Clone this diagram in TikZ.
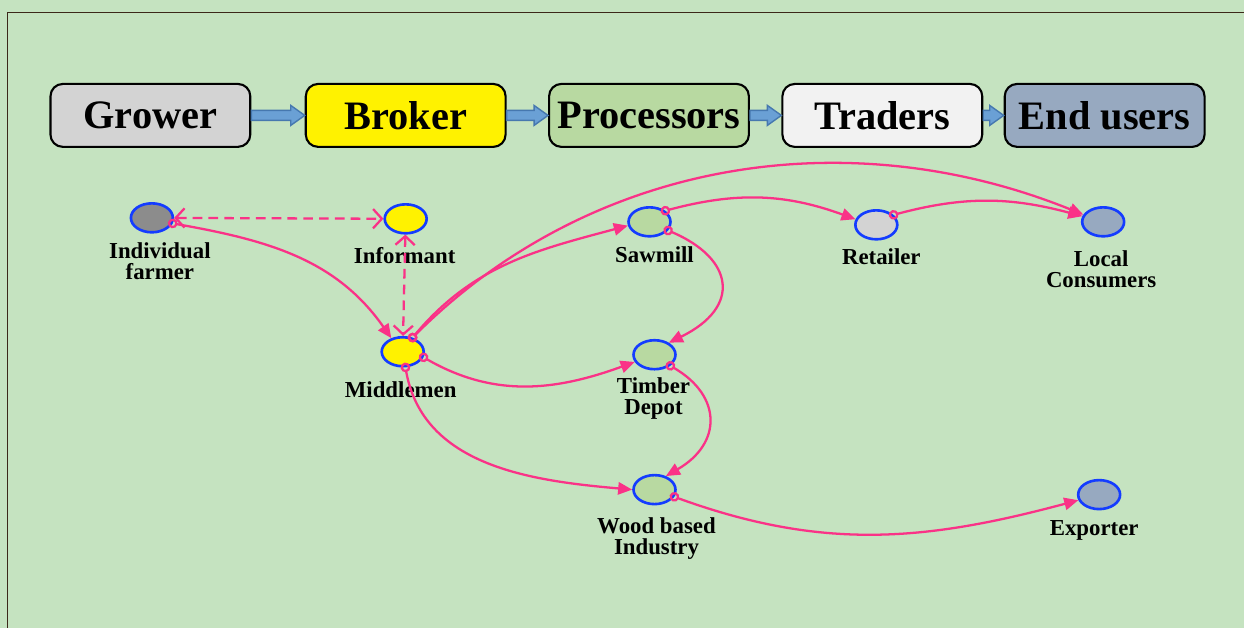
\documentclass[tikz,border=0pt]{standalone}
\usepackage{fontspec}
\setmainfont{Liberation Serif}
\usetikzlibrary{shapes.geometric,arrows.meta,calc}

\definecolor{bgreen}{RGB}{197,227,192}
\definecolor{framebrown}{RGB}{60,40,25}
\definecolor{growergray}{RGB}{211,211,211}
\definecolor{procgreen}{RGB}{184,217,161}
\definecolor{traderwhite}{RGB}{242,242,242}
\definecolor{enduserblue}{RGB}{151,169,192}
\definecolor{farmergray}{RGB}{140,140,140}
\definecolor{nodeblue}{RGB}{20,60,255}
\definecolor{flowpink}{RGB}{250,50,135}
\definecolor{arrowblue}{RGB}{106,160,213}
\definecolor{arrowedge}{RGB}{70,120,175}

% block arrow between two stage boxes
\newcommand{\stagearrow}[2]{%
  \draw[blockarrow] ($(#1.east)+(0,5)$) -- ($(#2.west)+(-14,5)$) -- ($(#2.west)+(-14,10)$)
    -- (#2.west) -- ($(#2.west)+(-14,-10)$) -- ($(#2.west)+(-14,-5)$) -- ($(#1.east)+(0,-5)$) -- cycle;}

\begin{document}
\begin{tikzpicture}[x=0.02cm,y=0.02cm,
  stage/.style={draw=black, line width=1.2pt, rounded corners=7pt, minimum width=4cm,
    minimum height=1.26cm, inner sep=2pt, font=\fontsize{23}{26}\selectfont\bfseries},
  actor/.style={ellipse, draw=nodeblue, line width=1.5pt, minimum width=0.84cm,
    minimum height=0.58cm, inner sep=0pt},
  tag/.style={align=center, font=\fontsize{13}{12}\selectfont\bfseries},
  flow/.style={draw=flowpink, line width=1.3pt,
    {Circle[open,length=5.5pt,width=5.5pt]}-{Triangle[length=8pt,width=7pt]}, shorten <=-2.75pt},
  link/.style={draw=flowpink, line width=1.3pt, dash pattern=on 5.5pt off 3.5pt,
    {Straight Barb[length=5pt,width=11pt]}-{Straight Barb[length=5pt,width=11pt]}},
  blockarrow/.style={fill=arrowblue, draw=arrowedge, line width=0.8pt}
]
	\fill[bgreen] (0,0) rectangle (1245,628);
	\draw[framebrown, line width=1.1pt] (7.5,0) -- (7.5,615.5) -- (1245,615.5);

	% chain of stages
	\node[stage, fill=growergray] (grower) at (150.5,512.5) {Grower};
	\node[stage, fill=yellow] (broker) at (406,512.5) {Broker};
	\node[stage, fill=procgreen] (processors) at (649.5,512.5) {Processors};
	\node[stage, fill=traderwhite] (traders) at (883,512.5) {Traders};
	\node[stage, fill=enduserblue] (endusers) at (1105.5,512.5) {End users};

	\stagearrow{grower}{broker}
	\stagearrow{broker}{processors}
	\stagearrow{processors}{traders}
	\stagearrow{traders}{endusers}

	% actors
	\node[actor, fill=farmergray] (farmer) at (152,410) {};
	\node[actor, fill=yellow] (informant) at (406,409) {};
	\node[actor, fill=yellow] (middlemen) at (403,276) {};
	\node[actor, fill=procgreen] (sawmill) at (650,406) {};
	\node[actor, fill=growergray] (retailer) at (877,403) {};
	\node[actor, fill=enduserblue] (consumers) at (1104,406) {};
	\node[actor, fill=procgreen] (depot) at (655,273) {};
	\node[actor, fill=procgreen] (industry) at (655,138) {};
	\node[actor, fill=enduserblue] (exporter) at (1100,133) {};

	\node[tag] (farmertxt) at (160,366.5) {Individual\\farmer};
	\node[tag] (informanttxt) at (405,372) {Informant};
	\node[tag] (middlementxt) at (401,238) {Middlemen};
	\node[tag] (sawmilltxt) at (655,373) {Sawmill};
	\node[tag] (retailertxt) at (882,371) {Retailer};
	\node[tag] (consumerstxt) at (1102,358.5) {Local\\Consumers};
	\node[tag] (depottxt) at (654,229.5) {Timber\\Depot};
	\node[tag] (industrytxt) at (657,89.5) {Wood based\\Industry};
	\node[tag] (exportertxt) at (1095,97) {Exporter};

	% information links
	\draw[link] (farmer) -- (informant);
	\draw[link] (informant) -- (middlemen);

	% timber flows
	\draw[flow] (farmer.-15) to[out=-10, in=125] (middlemen.130);
	\draw[flow] (middlemen.55) to[out=50, in=195] (sawmill.190);
	\draw[flow] (middlemen.55) to[out=45, in=158, looseness=0.95] (consumers.160);
	\draw[flow] (middlemen.-15) to[out=-30, in=200] (depot.200);
	\draw[flow] (middlemen.-80) to[out=-80, in=175] (industry.180);
	\draw[flow] (sawmill.35) to[out=15, in=160] (retailer.165);
	\draw[flow] (sawmill.-25) .. controls +(-23:72) and +(26:81) .. (depot.40);
	\draw[flow] (retailer.30) to[out=15, in=165] (consumers.165);
	\draw[flow] (depot.-35) .. controls +(-30:60) and +(30:65) .. (industry.50);
	\draw[flow] (industry.-20) to[out=-20, in=195] (exporter.195);
\end{tikzpicture}
\end{document}
